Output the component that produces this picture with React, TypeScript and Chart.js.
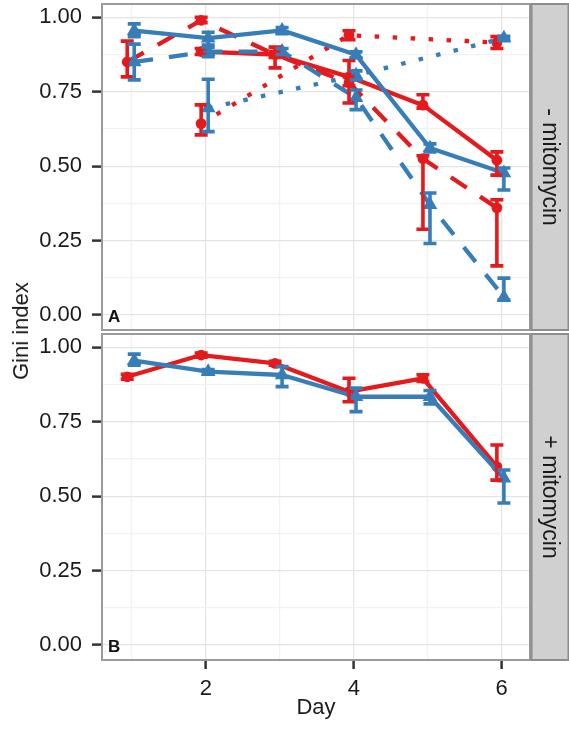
import React, { useEffect, useRef } from 'react';
import { Chart, registerables } from 'chart.js';

Chart.register(...registerables);

// ---------- data ----------
const DAYS = [1, 2, 3, 4, 5, 6];
const X_TICKS = [1, 2, 3, 4, 5, 6];
const X_LABELED = [2, 4, 6];
const Y_TICKS = [0, 0.125, 0.25, 0.375, 0.5, 0.625, 0.75, 0.875, 1];
const Y_LABELED = [0, 0.25, 0.5, 0.75, 1];
const X_RANGE = [0.594, 6.383];
const Y_RANGE = [-0.0503, 1.0447];
const RED_DODGE = -0.065;
const BLUE_DODGE = 0.03;

// Panel A: - mitomycin
const A_RED_SOLID = [null, 0.885, 0.875, 0.8, 0.705, 0.52];
const A_RED_SOLID_LO = [null, 0.875, 0.83, 0.77, 0.695, 0.47];
const A_RED_SOLID_HI = [null, 0.895, 0.9, 0.855, 0.74, 0.548];

const A_RED_DASHED = [0.85, 0.99, 0.875, 0.78, 0.525, 0.36];
const A_RED_DASHED_LO = [0.8, 0.982, 0.865, 0.712, 0.288, 0.165];
const A_RED_DASHED_HI = [0.92, 1.0, 0.885, 0.8, 0.535, 0.387];

const A_RED_DOTTED = [null, 0.643, null, 0.94, null, 0.915];
const A_RED_DOTTED_LO = [null, 0.605, null, 0.925, null, 0.895];
const A_RED_DOTTED_HI = [null, 0.706, null, 0.955, null, 0.935];

const A_BLUE_SOLID = [0.955, 0.93, 0.956, 0.874, 0.561, 0.477];
const A_BLUE_SOLID_LO = [0.935, 0.907, 0.945, 0.864, 0.548, 0.42];
const A_BLUE_SOLID_HI = [0.978, 0.95, 0.966, 0.884, 0.575, 0.494];

const A_BLUE_DASHED = [0.85, 0.885, 0.885, 0.73, 0.37, 0.06];
const A_BLUE_DASHED_LO = [0.79, 0.868, 0.875, 0.69, 0.24, 0.05];
const A_BLUE_DASHED_HI = [0.91, 0.9, 0.895, 0.756, 0.41, 0.124];

const A_BLUE_DOTTED = [null, 0.695, null, 0.805, null, 0.93];
const A_BLUE_DOTTED_LO = [null, 0.616, null, 0.79, null, 0.924];
const A_BLUE_DOTTED_HI = [null, 0.792, null, 0.82, null, 0.936];

// Panel B: + mitomycin
const B_RED = [0.901, 0.974, 0.946, 0.851, 0.896, 0.599];
const B_RED_LO = [0.893, 0.967, 0.94, 0.817, 0.885, 0.554];
const B_RED_HI = [0.909, 0.981, 0.953, 0.896, 0.908, 0.672];

const B_BLUE = [0.955, 0.918, 0.907, 0.834, 0.834, 0.56];
const B_BLUE_LO = [0.94, 0.912, 0.868, 0.784, 0.81, 0.477];
const B_BLUE_HI = [0.977, 0.925, 0.935, 0.863, 0.855, 0.588];

// ---------- style ----------
const FONT = '"Liberation Sans", Arial, Helvetica, sans-serif';
const TEXT = '#1a1a1a';
const TICK = '#333333';
const GRID_MAJOR = '#e4e4e4';
const GRID_MINOR = '#f1f1f1';
const RED = '#E41A1C';
const BLUE = '#377EB8';
const SOLID: number[] = [];
const DASHED = [19, 16];
const DOTTED = [4.5, 13.5];
const CAP = 6.5;

const isMajorX = (v: number) => X_LABELED.some((t) => Math.abs(t - v) < 1e-9);
const isMajorY = (v: number) => Y_LABELED.some((t) => Math.abs(t - v) < 1e-9);

function series(vals: (number | null)[], lo: (number | null)[], hi: (number | null)[], color: string, shape: string, dash: number[], dodge: number) {
  const pts: { x: number; y: number }[] = [];
  const los: number[] = [];
  const his: number[] = [];
  DAYS.forEach((d, i) => {
    const v = vals[i];
    if (v == null) return;
    pts.push({ x: d + dodge, y: v });
    los.push(lo[i] as number);
    his.push(hi[i] as number);
  });
  return {
    data: pts,
    errLo: los,
    errHi: his,
    borderColor: color,
    backgroundColor: color,
    borderWidth: 4.3,
    borderDash: dash,
    borderCapStyle: 'butt',
    borderJoinStyle: 'round',
    tension: 0,
    fill: false,
    pointStyle: shape,
    pointRadius: shape === 'circle' ? 5.4 : 8.5,
    pointBorderWidth: 0,
    pointBackgroundColor: color,
    pointBorderColor: color,
  };
}

const errorBarPlugin = {
  id: 'errorBars',
  afterDatasetsDraw(chart: any) {
    const { ctx } = chart;
    const xs = chart.scales.x;
    const ys = chart.scales.y;
    const dsets = chart.data.datasets;
    for (let di = dsets.length - 1; di >= 0; di--) {
      const ds = dsets[di];
      if (!ds.errLo) continue;
      ctx.save();
      ctx.strokeStyle = ds.borderColor;
      ctx.lineWidth = 3.6;
      ctx.lineCap = 'butt';
      ctx.setLineDash([]);
      ds.data.forEach((p: any, i: number) => {
        const x = xs.getPixelForValue(p.x);
        const y1 = ys.getPixelForValue(ds.errLo[i]);
        const y2 = ys.getPixelForValue(ds.errHi[i]);
        ctx.beginPath();
        ctx.moveTo(x, y1);
        ctx.lineTo(x, y2);
        ctx.moveTo(x - CAP, y1);
        ctx.lineTo(x + CAP, y1);
        ctx.moveTo(x - CAP, y2);
        ctx.lineTo(x + CAP, y2);
        ctx.stroke();
      });
      ctx.restore();
    }
  },
};

const decorPlugin = {
  id: 'panelDecor',
  afterDraw(chart: any, _args: any, opts: any) {
    const { ctx, chartArea: a } = chart;
    const w = a.right - a.left;
    const h = a.bottom - a.top;
    ctx.save();
    ctx.strokeStyle = '#9a9a9a';
    ctx.lineWidth = 2;
    ctx.strokeRect(a.left, a.top, w, h);
    const sx = a.right + 1.5;
    const sw = 37;
    ctx.fillStyle = '#d0d0d0';
    ctx.fillRect(sx, a.top, sw, h);
    ctx.strokeStyle = '#8c8c8c';
    ctx.lineWidth = 2;
    ctx.strokeRect(sx, a.top, sw, h);
    ctx.translate(sx + sw / 2 - 1, a.top + h / 2);
    ctx.rotate(Math.PI / 2);
    ctx.fillStyle = TEXT;
    ctx.font = `23px ${FONT}`;
    ctx.textAlign = 'center';
    ctx.textBaseline = 'middle';
    ctx.fillText(opts.strip, 0, 0);
    ctx.restore();

    ctx.save();
    ctx.font = `bold 17px ${FONT}`;
    ctx.fillStyle = '#111111';
    ctx.textAlign = 'left';
    ctx.textBaseline = 'middle';
    ctx.fillText(opts.letter, a.left + 6, chart.scales.y.getPixelForValue(0) + 2);
    ctx.restore();
  },
};

function makeConfig(datasets: any[], strip: string, letter: string, showX: boolean) {
  return {
    type: 'line',
    data: { datasets },
    options: {
      animation: false,
      responsive: false,
      events: [],
      layout: { autoPadding: false, padding: { left: 0, right: 39, top: showX ? 2 : 4, bottom: showX ? 0 : 2 } },
      plugins: {
        legend: { display: false },
        tooltip: { enabled: false },
        panelDecor: { strip, letter },
      },
      scales: {
        x: {
          type: 'linear',
          min: X_RANGE[0],
          max: X_RANGE[1],
          afterBuildTicks: (s: any) => {
            s.ticks = X_TICKS.map((v) => ({ value: v }));
          },
          afterFit: (s: any) => {
            s.height = showX ? 74 : 0;
            s.paddingLeft = 0;
            s.paddingRight = 0;
          },
          ticks: {
            display: showX,
            autoSkip: false,
            maxRotation: 0,
            minRotation: 0,
            padding: 7,
            color: TEXT,
            font: { family: FONT, size: 22 },
            callback: (v: number) => (isMajorX(v) ? String(v) : ''),
          },
          grid: {
            color: (c: any) => (c.tick && isMajorX(c.tick.value) ? GRID_MAJOR : GRID_MINOR),
            lineWidth: 1.2,
            drawTicks: showX,
            tickLength: 9,
            tickWidth: 2.5,
            tickColor: (c: any) => (c.tick && isMajorX(c.tick.value) ? TICK : 'rgba(0,0,0,0)'),
          },
          border: { display: false },
          title: {
            display: showX,
            text: 'Day',
            color: TEXT,
            font: { family: FONT, size: 22 },
            padding: { top: 0, bottom: 13 },
          },
        },
        y: {
          type: 'linear',
          min: Y_RANGE[0],
          max: Y_RANGE[1],
          afterBuildTicks: (s: any) => {
            s.ticks = Y_TICKS.map((v) => ({ value: v }));
          },
          afterFit: (s: any) => {
            s.width = 102;
            s.paddingTop = 0;
            s.paddingBottom = 0;
          },
          ticks: {
            autoSkip: false,
            padding: 10,
            color: TEXT,
            font: { family: FONT, size: 22 },
            callback: (v: number) => (isMajorY(v) ? v.toFixed(2) : ''),
          },
          grid: {
            color: (c: any) => (c.tick && isMajorY(c.tick.value) ? GRID_MAJOR : GRID_MINOR),
            lineWidth: 1.2,
            tickLength: 10,
            tickWidth: 2.5,
            tickColor: (c: any) => (c.tick && isMajorY(c.tick.value) ? TICK : 'rgba(0,0,0,0)'),
          },
          border: { display: false },
        },
      },
    },
    plugins: [errorBarPlugin, decorPlugin],
  };
}

export default function App() {
  const topRef = useRef<HTMLCanvasElement | null>(null);
  const botRef = useRef<HTMLCanvasElement | null>(null);

  useEffect(() => {
    const topSets = [
      series(A_BLUE_SOLID, A_BLUE_SOLID_LO, A_BLUE_SOLID_HI, BLUE, 'triangle', SOLID, BLUE_DODGE),
      series(A_BLUE_DASHED, A_BLUE_DASHED_LO, A_BLUE_DASHED_HI, BLUE, 'triangle', DASHED, BLUE_DODGE),
      series(A_BLUE_DOTTED, A_BLUE_DOTTED_LO, A_BLUE_DOTTED_HI, BLUE, 'triangle', DOTTED, BLUE_DODGE),
      series(A_RED_SOLID, A_RED_SOLID_LO, A_RED_SOLID_HI, RED, 'circle', SOLID, RED_DODGE),
      series(A_RED_DASHED, A_RED_DASHED_LO, A_RED_DASHED_HI, RED, 'circle', DASHED, RED_DODGE),
      series(A_RED_DOTTED, A_RED_DOTTED_LO, A_RED_DOTTED_HI, RED, 'circle', DOTTED, RED_DODGE),
    ];
    const botSets = [
      series(B_BLUE, B_BLUE_LO, B_BLUE_HI, BLUE, 'triangle', SOLID, BLUE_DODGE),
      series(B_RED, B_RED_LO, B_RED_HI, RED, 'circle', SOLID, RED_DODGE),
    ];
    const c1 = new Chart(topRef.current as HTMLCanvasElement, makeConfig(topSets, '- mitomycin', 'A', false) as any);
    const c2 = new Chart(botRef.current as HTMLCanvasElement, makeConfig(botSets, '+ mitomycin', 'B', true) as any);
    return () => {
      c1.destroy();
      c2.destroy();
    };
  }, []);

  return (
    <div style={{ position: 'absolute', left: 0, top: 0, width: 569, height: 734, background: '#ffffff', overflow: 'hidden' }}>
      <canvas ref={topRef} width={569} height={332} style={{ position: 'absolute', left: 0, top: 0 }} />
      <canvas ref={botRef} width={569} height={402} style={{ position: 'absolute', left: 0, top: 332 }} />
      <div
        style={{
          position: 'absolute',
          left: 21,
          top: 331,
          transform: 'translate(-50%, -50%) rotate(-90deg)',
          font: `22px ${FONT}`,
          color: TEXT,
          whiteSpace: 'nowrap',
          lineHeight: 1,
        }}
      >
        Gini index
      </div>
    </div>
  );
}
